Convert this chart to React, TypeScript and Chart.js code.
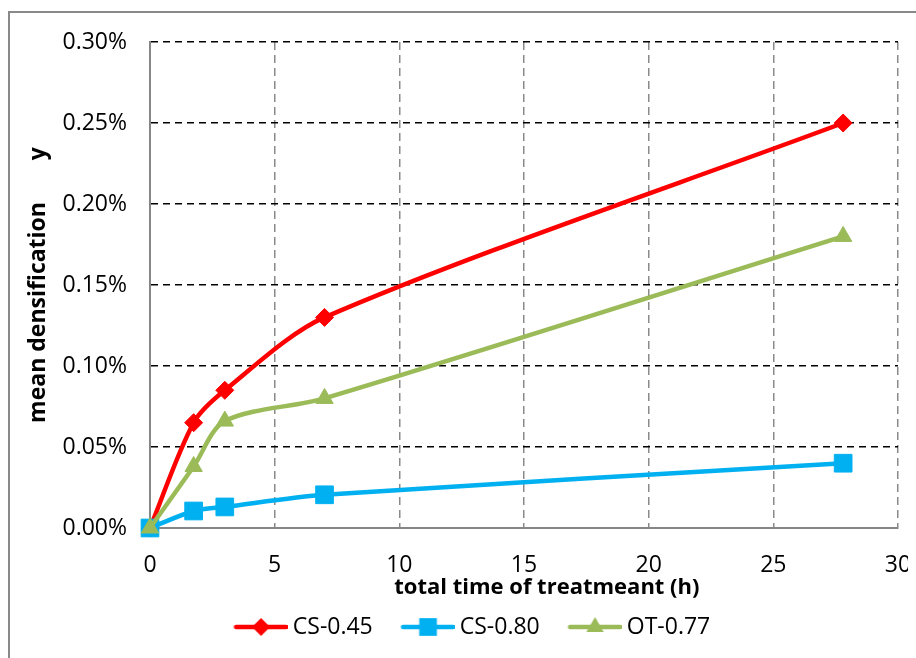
import { useEffect, useRef } from "react";
import { Chart, registerables } from "chart.js";

Chart.register(...registerables);

// ---- data ----
const hours = [0, 1.75, 3, 7, 27.8];
const cs045 = [0, 0.065, 0.085, 0.13, 0.25];
const cs080 = [0, 0.0105, 0.013, 0.0205, 0.04];
const ot077 = [0, 0.038, 0.066, 0.08, 0.18];
const seriesNames = ["CS-0.45", "CS-0.80", "OT-0.77"];
const seriesColors = ["#FF0000", "#00B0F0", "#9BBB59"];
const seriesMarkers = ["rectRot", "rect", "triangle"];
const markerRadii = [9, 12.5, 10];
const xTitle = "        total time of treatmeant (h)";
const yTitle = "mean densification       y";

const FONT = "'Open Sans', 'Noto Sans', sans-serif";
const LEGEND_BOX = 67.5;

function drawMarker(ctx: CanvasRenderingContext2D, style: string, x: number, y: number, r: number) {
  ctx.beginPath();
  if (style === "rectRot") {
    ctx.moveTo(x, y - r);
    ctx.lineTo(x + r, y);
    ctx.lineTo(x, y + r);
    ctx.lineTo(x - r, y);
  } else if (style === "rect") {
    const s = Math.SQRT1_2 * r;
    ctx.rect(x - s, y - s, 2 * s, 2 * s);
  } else {
    ctx.moveTo(x, y - r);
    ctx.lineTo(x + r * Math.sin((2 * Math.PI) / 3), y - r * Math.cos((2 * Math.PI) / 3));
    ctx.lineTo(x + r * Math.sin((4 * Math.PI) / 3), y - r * Math.cos((4 * Math.PI) / 3));
  }
  ctx.closePath();
  ctx.fill();
}

function makeLegendImage(color: string, style: string, r: number) {
  const w = LEGEND_BOX + 13;
  const h = 28;
  const c = document.createElement("canvas");
  c.width = w;
  c.height = h;
  const ctx = c.getContext("2d")!;
  ctx.strokeStyle = color;
  ctx.fillStyle = color;
  ctx.lineWidth = 4.5;
  ctx.lineCap = "round";
  ctx.beginPath();
  ctx.moveTo(w - 54 + 2, h / 2);
  ctx.lineTo(w - 2, h / 2);
  ctx.stroke();
  drawMarker(ctx, style, w - 27, h / 2, r);
  return c;
}

export default function App() {
  const canvasRef = useRef<HTMLCanvasElement | null>(null);

  useEffect(() => {
    if (!canvasRef.current) return;
    const seriesValues = [cs045, cs080, ot077];
    const legendImages = seriesNames.map((_, i) =>
      makeLegendImage(seriesColors[i], seriesMarkers[i], markerRadii[i])
    );
    const zeroTransparent = (color: string) => (c: any) =>
      c.tick && c.tick.value === 0 ? "rgba(0,0,0,0)" : color;

    const chart = new Chart(canvasRef.current, {
      type: "line",
      data: {
        datasets: seriesNames.map((name, i) => ({
          label: name,
          data: hours.map((h, j) => ({ x: h, y: seriesValues[i][j] })),
          borderColor: seriesColors[i],
          backgroundColor: seriesColors[i],
          borderWidth: 4.5,
          pointStyle: seriesMarkers[i] as any,
          pointRadius: markerRadii[i],
          pointBackgroundColor: seriesColors[i],
          pointBorderColor: seriesColors[i],
          pointBorderWidth: 1,
          tension: 0.3,
          clip: false as any,
          order: [2, 1, 0][i],
        })),
      },
      options: {
        animation: false,
        responsive: true,
        maintainAspectRatio: false,
        events: [],
        layout: { padding: { left: 0, right: 0, top: 34, bottom: 1.5 } },
        plugins: {
          tooltip: { enabled: false },
          legend: {
            position: "bottom",
            labels: {
              usePointStyle: true,
              pointStyleWidth: LEGEND_BOX,
              padding: 8,
              color: "#000",
              font: { family: FONT, size: 23 },
              generateLabels: () =>
                seriesNames.map((name, i) => ({
                  text: name,
                  pointStyle: legendImages[i] as any,
                  fillStyle: seriesColors[i],
                  strokeStyle: seriesColors[i],
                  lineWidth: 0,
                  hidden: false,
                  datasetIndex: i,
                  fontColor: "#000",
                })),
            },
          },
        },
        scales: {
          x: {
            type: "linear",
            min: 0,
            max: 30,
            ticks: {
              stepSize: 5,
              color: "#000",
              font: { family: FONT, size: 23 },
              padding: 24,
              maxRotation: 0,
            },
            grid: {
              color: zeroTransparent("#8a8a8a"),
              lineWidth: 1.5,
              drawTicks: false,
            },
            border: { display: true, color: "#868686", width: 2, dash: [8, 5] },
            title: {
              display: true,
              text: xTitle,
              color: "#000",
              font: { family: FONT, size: 22, weight: "bold" },
              padding: { top: 0, bottom: 7 },
            },
            afterFit: (s: any) => {
              s.height = 79.5;
              s.paddingRight = 18;
            },
          },
          y: {
            type: "linear",
            min: 0,
            max: 0.3,
            ticks: {
              stepSize: 0.05,
              color: "#000",
              font: { family: FONT, size: 23 },
              padding: 23,
              callback: (v: any) => Number(v).toFixed(2) + "%",
            },
            grid: {
              color: zeroTransparent("#000000"),
              lineWidth: 1.5,
              drawTicks: false,
            },
            border: { display: true, color: "#868686", width: 2, dash: [7, 5] },
            title: {
              display: true,
              text: yTitle,
              color: "#000",
              font: { family: FONT, size: 23, weight: "bold" },
              padding: { top: 17, bottom: 0 },
            },
            afterFit: (s: any) => {
              s.width = 142;
              s.paddingTop = 0;
              s.paddingBottom = 0;
            },
          },
        },
      },
    });
    return () => chart.destroy();
  }, []);

  return (
    <>
      <div
        style={{
          position: "fixed",
          left: 8,
          top: 11,
          width: 940,
          height: 700,
          borderLeft: "2px solid #898989",
          borderTop: "2px solid #898989",
          pointerEvents: "none",
        }}
      />
      <div style={{ position: "relative", width: 908, height: 642 }}>
        <canvas ref={canvasRef} />
      </div>
    </>
  );
}
